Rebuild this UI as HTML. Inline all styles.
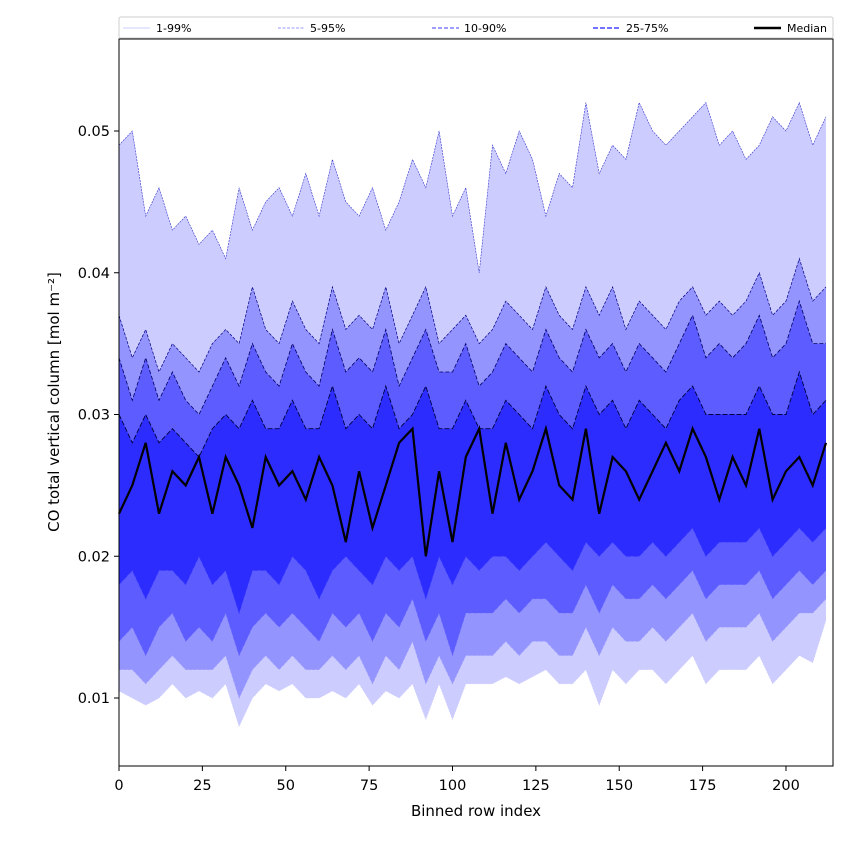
<!DOCTYPE html>
<html><head><meta charset="utf-8"><style>
body{margin:0;background:#fff;font-family:"DejaVu Sans",sans-serif}
svg text{font-family:"DejaVu Sans","Liberation Sans",sans-serif}
</style></head><body>
<svg id="chart" width="850" height="850" xmlns="http://www.w3.org/2000/svg">
<g id="bands"></g>
<g id="lines"></g>
<rect x="119" y="39" width="714" height="727" fill="none" stroke="#000" stroke-width="1"/>
<g id="xticks"></g>
<g id="yticks"></g>
<text x="476" y="816" font-size="15" text-anchor="middle">Binned row index</text>
<text transform="translate(59,402) rotate(-90)" font-size="15" text-anchor="middle">CO total vertical column [mol m⁻²]</text>
<g>
<rect x="119" y="17" width="714" height="21" fill="#fff" stroke="#ccc" rx="2"/>
<line x1="123" y1="28" x2="150" y2="28" stroke="#ccccff" stroke-width="1"/><text x="156" y="32" font-size="11">1-99%</text>
<line x1="278" y1="28" x2="305" y2="28" stroke="#9999ff" stroke-width="1" stroke-dasharray="3,1.5"/><text x="310" y="32" font-size="11">5-95%</text>
<line x1="432" y1="28" x2="459" y2="28" stroke="#6666ff" stroke-width="1.2" stroke-dasharray="4,2"/><text x="464" y="32" font-size="11">10-90%</text>
<line x1="593" y1="28" x2="620" y2="28" stroke="#4444ff" stroke-width="1.5" stroke-dasharray="5,2"/><text x="626" y="32" font-size="11">25-75%</text>
<line x1="754" y1="28" x2="781" y2="28" stroke="#000" stroke-width="2.5"/><text x="787" y="32" font-size="11">Median</text>
</g>
</svg>
<script>
const xIdx=[0,4,8,12,16,20,24,28,32,36,40,44,48,52,56,60,64,68,72,76,80,84,88,92,96,100,104,108,112,116,120,124,128,132,136,140,144,148,152,156,160,164,168,172,176,180,184,188,192,196,200,204,208,212];
const p99=[0.049,0.050,0.044,0.046,0.043,0.044,0.042,0.043,0.041,0.046,0.043,0.045,0.046,0.044,0.047,0.044,0.048,0.045,0.044,0.046,0.043,0.045,0.048,0.046,0.050,0.044,0.046,0.040,0.049,0.047,0.050,0.048,0.044,0.047,0.046,0.052,0.047,0.049,0.048,0.052,0.050,0.049,0.050,0.051,0.052,0.049,0.050,0.048,0.049,0.051,0.050,0.052,0.049,0.051];
const p95=[0.037,0.034,0.036,0.033,0.035,0.034,0.033,0.035,0.036,0.035,0.039,0.036,0.035,0.038,0.036,0.035,0.039,0.036,0.037,0.036,0.039,0.035,0.037,0.039,0.035,0.036,0.037,0.035,0.036,0.038,0.037,0.036,0.039,0.037,0.036,0.039,0.037,0.039,0.036,0.038,0.037,0.036,0.038,0.039,0.037,0.038,0.037,0.038,0.040,0.037,0.038,0.041,0.038,0.039];
const p90=[0.034,0.031,0.034,0.031,0.033,0.031,0.030,0.032,0.034,0.032,0.035,0.033,0.032,0.035,0.033,0.032,0.036,0.033,0.034,0.033,0.036,0.032,0.034,0.036,0.033,0.033,0.035,0.032,0.033,0.035,0.034,0.033,0.036,0.034,0.033,0.036,0.034,0.035,0.033,0.035,0.034,0.033,0.035,0.037,0.034,0.035,0.034,0.035,0.037,0.034,0.035,0.038,0.035,0.035];
const p75=[0.030,0.028,0.030,0.028,0.029,0.028,0.027,0.029,0.030,0.029,0.031,0.029,0.029,0.031,0.029,0.029,0.032,0.029,0.030,0.029,0.032,0.029,0.030,0.032,0.029,0.029,0.031,0.029,0.029,0.031,0.030,0.029,0.032,0.030,0.029,0.032,0.030,0.031,0.029,0.031,0.030,0.029,0.031,0.032,0.030,0.030,0.030,0.030,0.032,0.030,0.030,0.033,0.030,0.031];
const p50=[0.023,0.025,0.028,0.023,0.026,0.025,0.027,0.023,0.027,0.025,0.022,0.027,0.025,0.026,0.024,0.027,0.025,0.021,0.026,0.022,0.025,0.028,0.029,0.020,0.026,0.021,0.027,0.029,0.023,0.028,0.024,0.026,0.029,0.025,0.024,0.029,0.023,0.027,0.026,0.024,0.026,0.028,0.026,0.029,0.027,0.024,0.027,0.025,0.029,0.024,0.026,0.027,0.025,0.028];
const p25=[0.018,0.019,0.017,0.019,0.019,0.018,0.020,0.018,0.019,0.016,0.019,0.019,0.018,0.020,0.019,0.017,0.019,0.020,0.019,0.018,0.020,0.019,0.020,0.017,0.020,0.018,0.020,0.019,0.020,0.020,0.019,0.020,0.021,0.020,0.019,0.021,0.020,0.021,0.020,0.020,0.021,0.020,0.021,0.022,0.020,0.021,0.021,0.021,0.022,0.020,0.021,0.022,0.021,0.022];
const p10=[0.014,0.015,0.013,0.015,0.016,0.014,0.015,0.014,0.016,0.013,0.015,0.016,0.015,0.016,0.015,0.014,0.016,0.015,0.016,0.014,0.016,0.015,0.017,0.014,0.016,0.013,0.016,0.016,0.016,0.017,0.016,0.017,0.017,0.016,0.016,0.018,0.016,0.018,0.017,0.017,0.018,0.017,0.018,0.019,0.017,0.018,0.018,0.018,0.019,0.017,0.018,0.019,0.018,0.019];
const p5=[0.012,0.012,0.011,0.012,0.013,0.012,0.012,0.012,0.013,0.010,0.012,0.013,0.012,0.013,0.012,0.012,0.013,0.012,0.013,0.011,0.013,0.012,0.014,0.011,0.013,0.011,0.013,0.013,0.013,0.014,0.013,0.014,0.014,0.013,0.013,0.015,0.013,0.015,0.014,0.014,0.015,0.014,0.015,0.016,0.014,0.015,0.015,0.015,0.016,0.014,0.015,0.016,0.016,0.017];
const p1=[0.0105,0.010,0.0095,0.010,0.011,0.010,0.0105,0.010,0.011,0.008,0.010,0.011,0.0105,0.011,0.010,0.010,0.0105,0.010,0.011,0.0095,0.0105,0.010,0.011,0.0085,0.011,0.0085,0.011,0.011,0.011,0.0115,0.011,0.0115,0.012,0.011,0.011,0.012,0.0095,0.012,0.011,0.012,0.012,0.011,0.012,0.013,0.011,0.012,0.012,0.012,0.013,0.011,0.012,0.013,0.0125,0.0155];
const xTicks=[0,25,50,75,100,125,150,175,200];
const yTicks=[0.01,0.02,0.03,0.04,0.05];
const NS="http://www.w3.org/2000/svg";
const X=v=>119+v*(714/214.1);
const Y=v=>839.75-v*14175;
function pts(arr){return arr.map((v,i)=>X(xIdx[i]).toFixed(1)+","+Y(v).toFixed(1));}
const bands=document.getElementById('bands'),lines=document.getElementById('lines');
const bandDefs=[[p1,p99,'#ccccff','band-1-99'],[p5,p95,'#9494ff','band-5-95'],[p10,p90,'#5c5cff','band-10-90'],[p25,p75,'#2c2cff','band-25-75']];
bandDefs.forEach(b=>{
 const p=document.createElementNS(NS,'polygon');
 p.setAttribute('points',pts(b[1]).concat(pts(b[0]).reverse()).join(' '));
 p.setAttribute('fill',b[2]);
 
 
 bands.appendChild(p);
});
const lineDefs=[[p99,'#3333cc','0.6','2,1','line-p99'],[p1,'#ccccff','0.6','2,1','line-p1'],[p95,'#000080','0.7','3,1.5','line-p95'],[p5,'#9999ff','0.6','3,1.5','line-p5'],[p90,'#000060','0.8','4,2','line-p90'],[p10,'#6666ff','0.6','4,2','line-p10'],[p75,'#000040','0.9','5,2','line-p75'],[p25,'#3333ff','0.6','5,2','line-p25']];
lineDefs.forEach(l=>{
 const pl=document.createElementNS(NS,'polyline');
 pl.setAttribute('points',pts(l[0]).join(' '));
 pl.setAttribute('fill','none');pl.setAttribute('stroke',l[1]);pl.setAttribute('stroke-width',l[2]);pl.setAttribute('stroke-dasharray',l[3]);
 
 
 lines.appendChild(pl);
});
const med=document.createElementNS(NS,'polyline');
med.setAttribute('points',pts(p50).join(' '));
med.setAttribute('fill','none');med.setAttribute('stroke','#000');med.setAttribute('stroke-width','2.2');


lines.appendChild(med);
const xg=document.getElementById('xticks');
xTicks.forEach(t=>{
 const ln=document.createElementNS(NS,'line');
 ln.setAttribute('x1',X(t));ln.setAttribute('x2',X(t));ln.setAttribute('y1',766);ln.setAttribute('y2',771);ln.setAttribute('stroke','#000');
 
 
 xg.appendChild(ln);
 const tx=document.createElementNS(NS,'text');
 tx.setAttribute('x',X(t));tx.setAttribute('y',790);tx.setAttribute('font-size','14.5');tx.setAttribute('text-anchor','middle');
 tx.textContent=t;
 
 
 xg.appendChild(tx);
});
const yg=document.getElementById('yticks');
yTicks.forEach(t=>{
 const ln=document.createElementNS(NS,'line');
 ln.setAttribute('x1',114);ln.setAttribute('x2',119);ln.setAttribute('y1',Y(t));ln.setAttribute('y2',Y(t));ln.setAttribute('stroke','#000');
 
 
 yg.appendChild(ln);
 const tx=document.createElementNS(NS,'text');
 tx.setAttribute('x',110);tx.setAttribute('y',Y(t)+5);tx.setAttribute('font-size','14.5');tx.setAttribute('text-anchor','end');
 tx.textContent=t.toFixed(2);
 
 
 yg.appendChild(tx);
});
</script>
</body></html>
